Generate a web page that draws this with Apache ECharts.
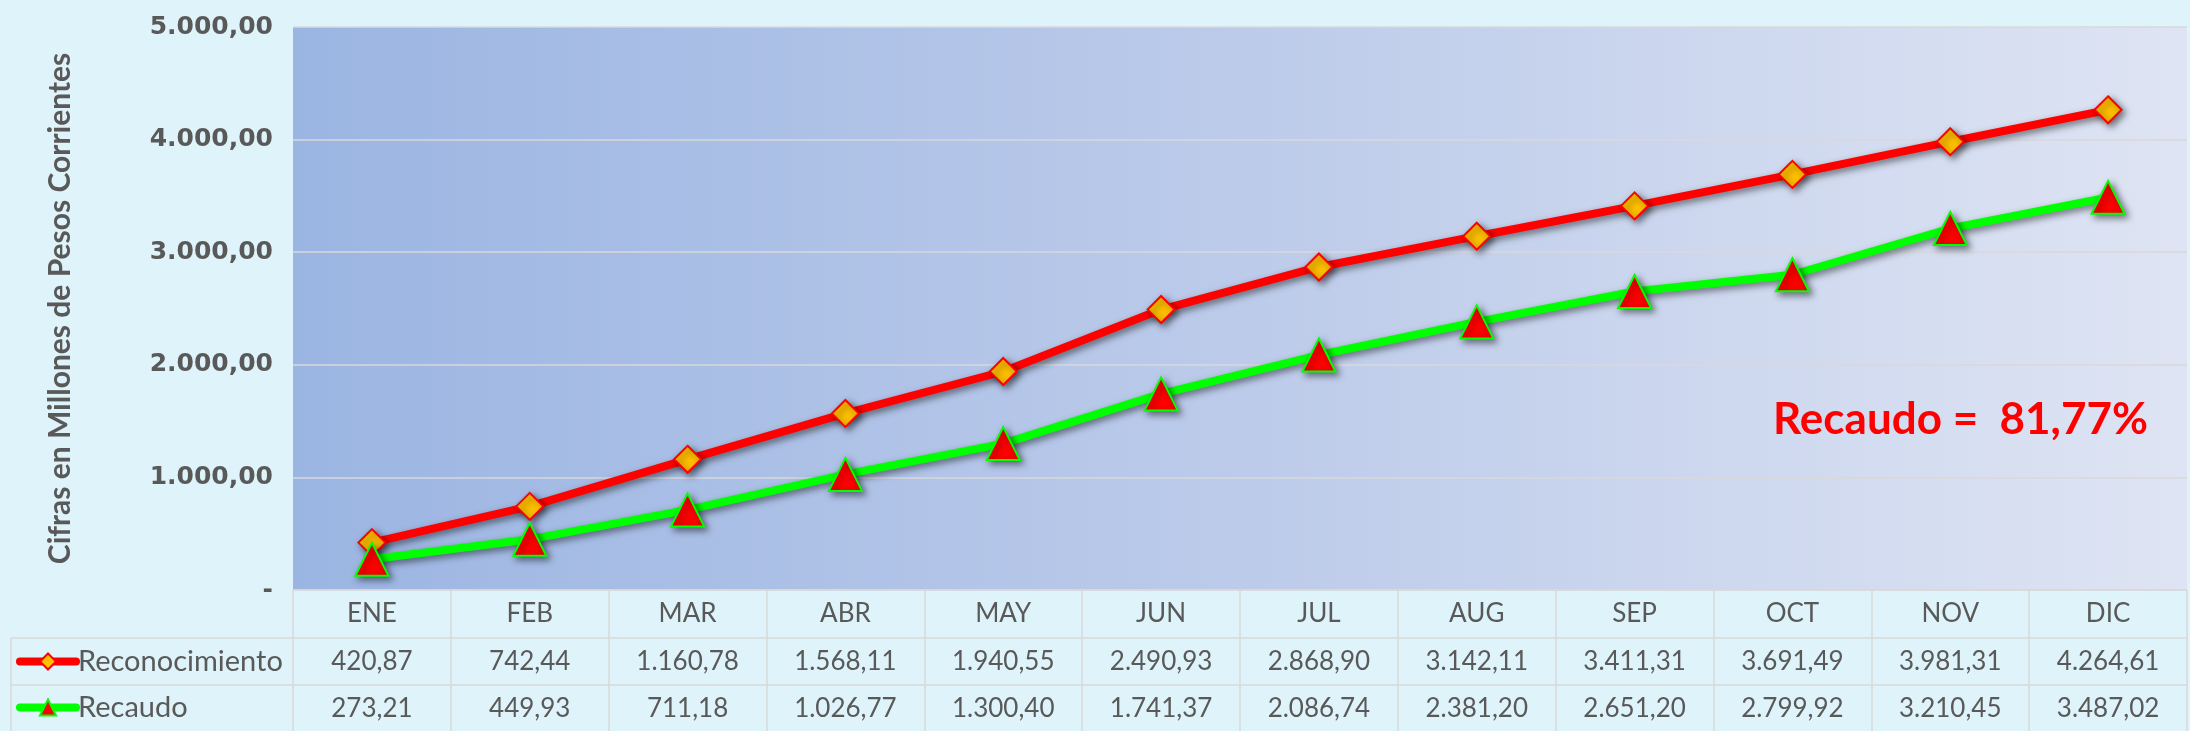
<!DOCTYPE html>
<html>
<head>
<meta charset="utf-8">
<script src="https://cdn.jsdelivr.net/npm/echarts@6/dist/echarts.min.js"></script>
<style>
  html, body { margin: 0; padding: 0; background: #dff3fa; }
  #chart { width: 2190px; height: 731px; }
</style>
</head>
<body>
<div id="chart"></div>
<script>
// meses (eje x / cabecera de la tabla)
const meses = ['ENE', 'FEB', 'MAR', 'ABR', 'MAY', 'JUN', 'JUL', 'AUG', 'SEP', 'OCT', 'NOV', 'DIC'];
// cifras en millones de pesos corrientes
const reconocimiento = [420.87, 742.44, 1160.78, 1568.11, 1940.55, 2490.93, 2868.90, 3142.11, 3411.31, 3691.49, 3981.31, 4264.61];
const recaudo = [273.21, 449.93, 711.18, 1026.77, 1300.40, 1741.37, 2086.74, 2381.20, 2651.20, 2799.92, 3210.45, 3487.02];
// eje y
const yMin = 0, yMax = 5000, yStep = 1000;

// formato 1.234,56
const fmt = (v) => {
    let s = v.toFixed(2).split('.');
    s[0] = s[0].replace(/\B(?=(\d{3})+(?!\d))/g, '.');
    return s[0] + ',' + s[1];
};

const gris = '#595959';
const borde = '#d9d9d9';
const tabla = 'Lato, "Open Sans", sans-serif';

const pct = (recaudo[recaudo.length - 1] / reconocimiento[reconocimiento.length - 1] * 100);

const sombra = {shadowColor: 'rgba(0,0,0,0.5)', shadowBlur: 7, shadowOffsetX: 3, shadowOffsetY: 3};

// los tres ejes x forman la tabla de abajo (meses + una fila por serie)
const filaEje = (datos, offset) => ({
    type: 'category',
    position: 'bottom',
    offset: offset,
    data: datos,
    axisLine: {show: true, lineStyle: {color: borde, width: 1.5}},
    axisTick: {show: offset === 0, length: 141, lineStyle: {color: borde, width: 1.5}},
    axisLabel: {color: gris, fontFamily: tabla, fontSize: 26, margin: 11, interval: 0}
});

// una leyenda por fila de la tabla
const leyenda = (nombre, top) => ({
    left: 16, top: top, padding: 0,
    itemWidth: 56, itemHeight: 20,
    lineStyle: {width: 8, cap: 'round', shadowBlur: 0, shadowOffsetX: 0, shadowOffsetY: 0},
    itemStyle: {shadowBlur: 0, shadowOffsetX: 0, shadowOffsetY: 0},
    textStyle: {color: gris, fontFamily: tabla, fontSize: 29, padding: [0, 0, 0, -3]},
    data: [nombre]
});

let myChart = echarts.init(document.getElementById('chart'));
myChart.setOption({
    backgroundColor: '#dff3fa',
    animation: false,
    grid: {
        left: 293, right: 3, top: 27, bottom: 141,
        show: true,
        borderWidth: 0,
        backgroundColor: {
            type: 'linear', x: 0, y: 0, x2: 1, y2: 0,
            colorStops: [{offset: 0, color: '#9bb5e2'}, {offset: 0.5, color: '#bccbea'}, {offset: 1, color: '#dee4f3'}]
        }
    },
    legend: [leyenda('Reconocimiento', 647), leyenda('Recaudo', 693)],
    xAxis: [
        filaEje(meses, 0),
        filaEje(reconocimiento.map(fmt), 48),
        filaEje(recaudo.map(fmt), 95)
    ],
    yAxis: {
        type: 'value',
        min: yMin, max: yMax, interval: yStep,
        name: 'Cifras en Millones de Pesos Corrientes',
        nameLocation: 'middle',
        nameGap: 218,
        nameTextStyle: {color: gris, fontFamily: tabla, fontWeight: 'bold', fontSize: 30},
        axisLine: {show: false},
        axisTick: {show: false},
        axisLabel: {
            color: gris, fontFamily: '"DejaVu Sans", sans-serif', fontWeight: 'bold', fontSize: 25, margin: 20,
            formatter: (v) => v === 0 ? '-' : fmt(v)
        },
        splitLine: {lineStyle: {color: '#d9d9d9', width: 1.5}}
    },
    graphic: [
        // bordes de la columna de leyenda
        {type: 'line', shape: {x1: 11, y1: 638, x2: 293, y2: 638}, style: {stroke: borde, lineWidth: 1.5}},
        {type: 'line', shape: {x1: 11, y1: 685, x2: 293, y2: 685}, style: {stroke: borde, lineWidth: 1.5}},
        {type: 'line', shape: {x1: 11, y1: 638, x2: 11, y2: 731}, style: {stroke: borde, lineWidth: 1.5}},
        {
            type: 'text', right: 42, top: 398,
            style: {text: 'Recaudo =  ' + pct.toFixed(2).replace('.', ',') + '%', fill: '#ff0000',
                font: 'bold 44px Lato, "Open Sans", sans-serif'}
        }
    ],
    series: [
        {
            name: 'Reconocimiento',
            type: 'line',
            data: reconocimiento,
            symbol: 'diamond',
            symbolSize: 27,
            lineStyle: Object.assign({color: '#ff0000', width: 8}, sombra),
            itemStyle: Object.assign({color: '#ffc000', borderColor: '#ff0000', borderWidth: 2}, sombra),
            z: 3
        },
        {
            name: 'Recaudo',
            type: 'line',
            data: recaudo,
            symbol: 'triangle',
            symbolSize: 33,
            lineStyle: Object.assign({color: '#00ff00', width: 8}, sombra),
            itemStyle: Object.assign({color: '#ff0000', borderColor: '#00ff00', borderWidth: 2}, sombra),
            z: 4
        }
    ]
});
window.addEventListener('resize', () => {
    myChart.resize();
});
</script>
</body>
</html>
